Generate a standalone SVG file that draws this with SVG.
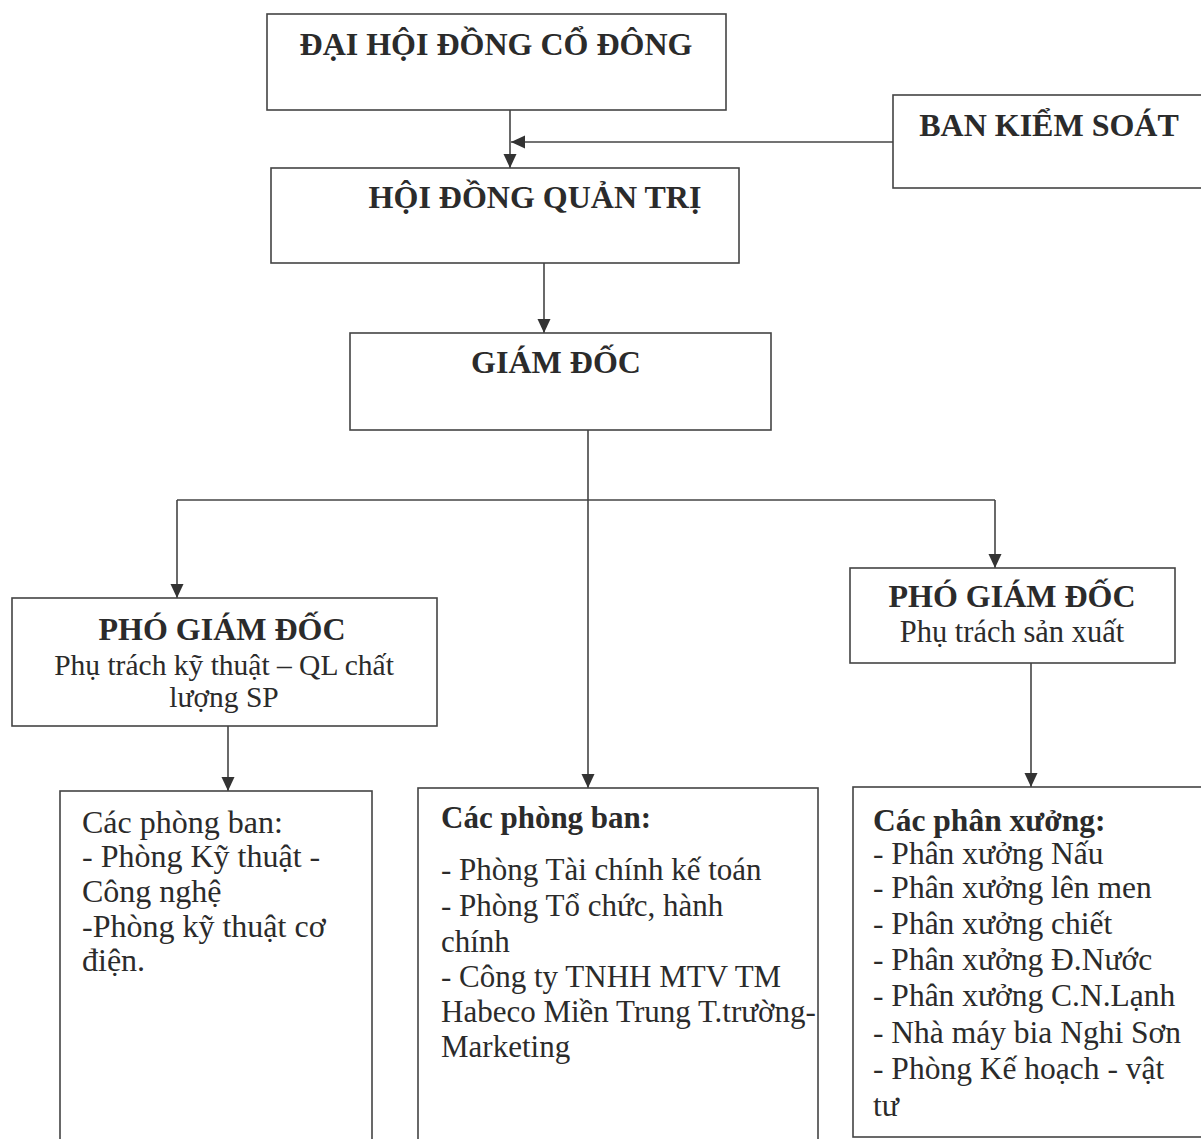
<svg xmlns="http://www.w3.org/2000/svg" width="1201" height="1139" viewBox="0 0 1201 1139">
<defs>
<marker id="ah" viewBox="0 0 14 14" refX="14" refY="7" markerWidth="14" markerHeight="14" markerUnits="userSpaceOnUse" orient="auto">
<path d="M0,0.5 L14,7 L0,13.5 Z" fill="#333"/>
</marker>
<style>
.box{fill:#fff;stroke:#444;stroke-width:1.6}
.ln{fill:none;stroke:#444;stroke-width:1.6}
.t{font-family:"Liberation Serif","Times New Roman",serif;fill:#2b2b2b}
.b{font-weight:bold;font-size:32px}
.c{text-anchor:middle}
.r{font-size:31px}
</style>
</defs>
<rect width="1201" height="1139" fill="#fff"/>
<g id="connectors">
<line class="ln" x1="510" y1="110" x2="510" y2="168" marker-end="url(#ah)"/>
<line class="ln" x1="893" y1="142" x2="511" y2="142" marker-end="url(#ah)"/>
<line class="ln" x1="544" y1="263" x2="544" y2="333" marker-end="url(#ah)"/>
<line class="ln" x1="177" y1="500" x2="995" y2="500"/>
<line class="ln" x1="177" y1="500" x2="177" y2="598" marker-end="url(#ah)"/>
<line class="ln" x1="995" y1="500" x2="995" y2="568" marker-end="url(#ah)"/>
<line class="ln" x1="588" y1="430" x2="588" y2="788" marker-end="url(#ah)"/>
<line class="ln" x1="228" y1="726" x2="228" y2="791" marker-end="url(#ah)"/>
<line class="ln" x1="1031" y1="663" x2="1031" y2="787" marker-end="url(#ah)"/>
</g>
<g id="dhdcd">
<rect class="box" x="267" y="14" width="459" height="96"/>
<text class="t b c" x="496" y="55">ĐẠI HỘI ĐỒNG CỔ ĐÔNG</text>
</g>
<g id="bks">
<rect class="box" x="893" y="95" width="320" height="93"/>
<text class="t b c" x="1049" y="136">BAN KIỂM SOÁT</text>
</g>
<g id="hdqt">
<rect class="box" x="271" y="168" width="468" height="95"/>
<text class="t b c" x="535" y="208">HỘI ĐỒNG QUẢN TRỊ</text>
</g>
<g id="gd">
<rect class="box" x="350" y="333" width="421" height="97"/>
<text class="t b c" x="556" y="373">GIÁM ĐỐC</text>
</g>
<g id="pgd-kt">
<rect class="box" x="12" y="598" width="425" height="128"/>
<text class="t b c" x="222" y="640">PHÓ GIÁM ĐỐC</text>
<text class="t c" x="224" y="675" font-size="29.5">Phụ trách kỹ thuật – QL chất</text>
<text class="t c" x="224" y="707" font-size="29.5">lượng SP</text>
</g>
<g id="pgd-sx">
<rect class="box" x="850" y="568" width="325" height="95"/>
<text class="t b c" x="1012" y="607">PHÓ GIÁM ĐỐC</text>
<text class="t c" x="1012" y="642" font-size="30.5">Phụ trách sản xuất</text>
</g>
<g id="pb-kt">
<rect class="box" x="60" y="791" width="312" height="360"/>
<text class="t" x="82" y="833" font-size="32">Các phòng ban:</text>
<text class="t" x="82" y="867" font-size="32">- Phòng Kỹ thuật -</text>
<text class="t" x="82" y="902" font-size="32">Công nghệ</text>
<text class="t" x="82" y="937" font-size="32">-Phòng kỹ thuật cơ</text>
<text class="t" x="82" y="971" font-size="32">điện.</text>
</g>
<g id="pb-gd">
<rect class="box" x="418" y="788" width="400" height="363"/>
<text class="t r" x="441" y="828" font-weight="bold">Các phòng ban:</text>
<text class="t r" x="441" y="880">- Phòng Tài chính kế toán</text>
<text class="t r" x="441" y="916">- Phòng Tổ chức, hành</text>
<text class="t r" x="441" y="952">chính</text>
<text class="t r" x="441" y="987">- Công ty TNHH MTV TM</text>
<text class="t r" x="441" y="1022">Habeco Miền Trung T.trường-</text>
<text class="t r" x="441" y="1057">Marketing</text>
</g>
<g id="px-sx">
<rect class="box" x="853" y="787" width="360" height="350"/>
<text class="t" x="873" y="831" font-size="31.5" font-weight="bold">Các phân xưởng:</text>
<text class="t" x="873" y="864" font-size="31.5">- Phân xưởng Nấu</text>
<text class="t" x="873" y="898" font-size="31.5">- Phân xưởng lên men</text>
<text class="t" x="873" y="934" font-size="31.5">- Phân xưởng chiết</text>
<text class="t" x="873" y="970" font-size="31.5">- Phân xưởng Đ.Nước</text>
<text class="t" x="873" y="1006" font-size="31.5">- Phân xưởng C.N.Lạnh</text>
<text class="t" x="873" y="1043" font-size="31.5">- Nhà máy bia Nghi Sơn</text>
<text class="t" x="873" y="1079" font-size="31.5">- Phòng Kế hoạch - vật</text>
<text class="t" x="873" y="1116" font-size="31.5">tư</text>
</g>
</svg>
